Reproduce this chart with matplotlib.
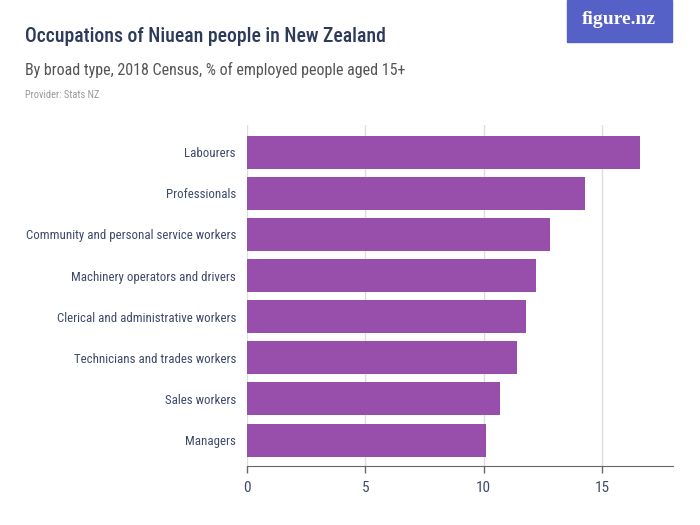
import matplotlib.pyplot as plt
from matplotlib import font_manager
from matplotlib.patches import Rectangle

# Data
categories = ["Labourers", "Professionals", "Community and personal service workers",
              "Machinery operators and drivers", "Clerical and administrative workers",
              "Technicians and trades workers", "Sales workers", "Managers"]
values = [16.6, 14.3, 12.8, 12.2, 11.8, 11.4, 10.7, 10.1]
xticks = [0, 5, 10, 15]

# pick a narrow font if there is one, else shrink Roboto
installed = {f.name for f in font_manager.fontManager.ttflist}
narrow = [n for n in ['Roboto Condensed', 'Liberation Sans Narrow', 'Open Sans Condensed']
          if n in installed]
if narrow:
    plt.rcParams['font.family'] = [narrow[0], 'DejaVu Sans']
    scale = 1.0
else:
    plt.rcParams['font.family'] = ['Roboto', 'DejaVu Sans']
    scale = 0.86

fig = plt.figure(figsize=(7, 5.25), dpi=100)
ax = fig.add_axes([247/700, 1 - 466/525, (673 - 247)/700, (466 - 125)/525])

pos = list(range(len(categories)))
ax.barh(pos, values, height=0.8, color="#984fab", zorder=3)
ax.set_ylim(7.63, -0.66)
ax.set_xlim(0, 18)

ax.set_yticks(pos)
ax.set_yticklabels(categories, fontsize=9.3 * scale, color="#3d4a6b")
ax.set_xticks(xticks)
ax.set_xticklabels([str(t) for t in xticks], fontsize=11 * scale, color="#3d4a6b")
ax.tick_params(axis='y', length=0, pad=8)
ax.tick_params(axis='x', length=5, color="#666666", width=1, pad=6)
ax.grid(axis='x', color="#dddddd", linewidth=1, zorder=0)
for s in ['top', 'right', 'left']:
    ax.spines[s].set_visible(False)
ax.spines['bottom'].set_color("#666666")

# Header text
fig.text(25/700, 1 - 37/525, "Occupations of Niuean people in New Zealand",
         fontsize=14.2 * scale, color="#2d3a5a", va='center', ha='left', fontweight='medium')
fig.text(25/700, 1 - 70/525, "By broad type, 2018 Census, % of employed people aged 15+",
         fontsize=11.5 * scale, color="#555555", va='center', ha='left')
fig.text(25/700, 1 - 95/525, "Provider: Stats NZ",
         fontsize=7.5 * scale, color="#999999", va='center', ha='left')

# Logo
fig.patches.append(Rectangle((567/700, 1 - 42/525), (672 - 567)/700, 42/525,
                             transform=fig.transFigure, color="#5561c6", zorder=1))
fig.text(619/700, 1 - 20/525, "figure.nz", fontsize=14, color="white",
         family=['Liberation Serif', 'DejaVu Serif'], fontweight='bold',
         va='center', ha='center', zorder=2)

fig.savefig("out.png", dpi=100)
